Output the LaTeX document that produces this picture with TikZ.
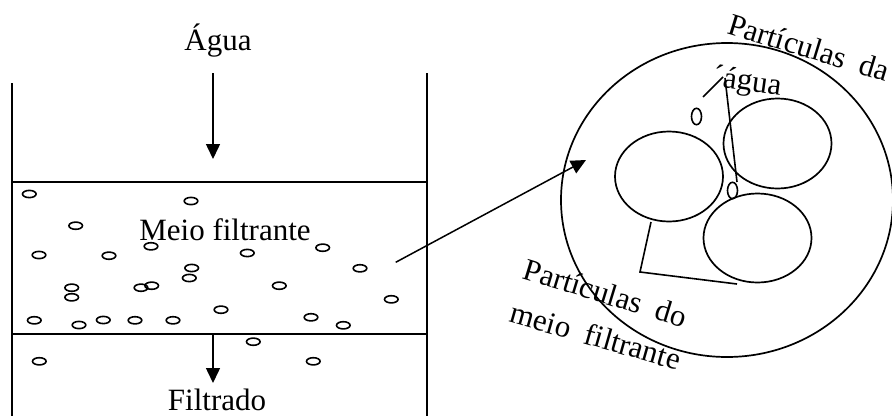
\documentclass[tikz,border=0pt]{standalone}
\usepackage{fontspec}
\setmainfont{Liberation Serif}
\usetikzlibrary{arrows.meta}
\begin{document}
\begin{tikzpicture}[x=1pt,y=-1pt,
  wall/.style={line width=1.5pt},
  grain/.style={line width=1.6pt},
  ring/.style={line width=1.7pt},
  lbl/.style={font=\fontsize{31}{36}\selectfont, inner sep=0pt},
  arr/.style={line width=1.5pt,-{Triangle[width=14pt,length=15pt]}},
  ptr/.style={line width=1.6pt}]
\useasboundingbox (0,0) rectangle (892,416);
% vessel
\coordinate (lt) at (12,83);
\coordinate (lb) at (12,416);
\coordinate (rt) at (427,73);
\coordinate (rb) at (427,416);
\coordinate (h1l) at (12,182);
\coordinate (h1r) at (427,182);
\coordinate (h2l) at (12,334);
\coordinate (h2r) at (427,334);
\draw[wall] (lt) -- (lb);
\draw[wall] (rt) -- (rb);
\draw[wall] (h1l) -- (h1r);
\draw[wall] (h2l) -- (h2r);
% labels
\node[lbl,anchor=base] (agua) at (218,50) {Água};
\node[lbl,anchor=base] (meio) at (225,240) {Meio filtrante};
\node[lbl,anchor=base] (filt) at (217,410) {Filtrado};
% arrows
\coordinate (a1) at (213,73);
\coordinate (a2) at (213,159);
\coordinate (f1) at (213,334);
\coordinate (f2) at (213,383);
\draw[arr] (a1) -- (a2);
\draw[arr] (f1) -- (f2);
% particles
\foreach \px/\py in {29.3/194, 191/201, 75.7/225.7, 39/255, 109/255.7, 151/246.3,
  247.3/253, 322.7/247.7, 360/268.3, 191.7/268, 189.3/278, 71.7/287.7, 71.7/297.3,
  141/287.7, 151.7/285.7, 279.3/285.7, 391.3/299.3, 221/309.7, 34.3/320.3, 79/325,
  103.3/320, 135/320.3, 173/320.3, 311/317.3, 343.3/325.3, 253.3/341.7, 39.3/361.3,
  313.3/361.3}
  \draw[grain] (\px,\py) ellipse[x radius=6.8pt, y radius=3.6pt];
% magnified view
\draw[ring] (727,200) ellipse[x radius=166pt, y radius=157pt];
\draw[ring] (669,176.5) ellipse[x radius=54pt, y radius=45pt];
\draw[ring] (777.5,143.5) ellipse[x radius=54pt, y radius=45pt];
\draw[ring] (757.5,238) ellipse[x radius=54pt, y radius=44.5pt];
\draw[grain] (696.5,116.5) ellipse[x radius=5pt, y radius=8.2pt];
\draw[grain] (732.5,190.5) ellipse[x radius=5pt, y radius=8.2pt];
% big arrow
\coordinate (src) at (395.7,262.3);
\coordinate (dst) at (586,160);
\draw[arr] (src) -- (dst);
% rotated labels
\node[lbl,anchor=base west,rotate=-17] (pda) at (726,33) {Partículas\ \ da};
\node[lbl,anchor=base west,rotate=-8] (pag) at (722,87) {\llap{´}água};
\node[lbl,anchor=base west,rotate=-17] (pdo) at (521.7,278.3) {Partículas\ \ do};
\node[lbl,anchor=base west,rotate=-16] (pmf) at (508.3,321.7) {meio\ \ filtrante};
% pointers
\coordinate (pA1) at (703,97);
\coordinate (pA2) at (723,77);
\coordinate (pB1) at (725,78);
\coordinate (pB2) at (737,182);
\draw[ptr] (pA1) -- (pA2);
\draw[ptr] (pB1) -- (pB2);
\coordinate (b1) at (651,222);
\coordinate (b2) at (640,272);
\coordinate (b3) at (737,284);
\draw[ptr] (b1) -- (b2) -- (b3);
\end{tikzpicture}
\end{document}
